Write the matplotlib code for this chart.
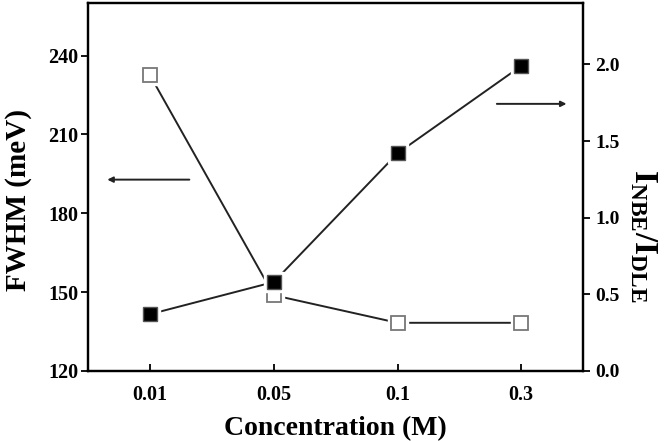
import matplotlib.pyplot as plt

concentracao = ['0.01', '0.05', '0.1', '0.3']
fwhm = [232.5, 148.8, 138.3, 138.3]
razao = [0.37, 0.58, 1.42, 1.99]

plt.rcParams['font.family'] = 'Liberation Serif'
plt.rcParams['font.weight'] = 'bold'
plt.rcParams['mathtext.fontset'] = 'custom'
plt.rcParams['mathtext.bf'] = 'Liberation Serif:bold'
plt.rcParams['mathtext.rm'] = 'Liberation Serif:bold'

fig = plt.figure(figsize=(6.68, 4.41), dpi=100)
ax = fig.add_axes([0.132, 0.159, 0.741, 0.834])
ax2 = ax.twinx()

x = list(range(len(concentracao)))

# FWHM - quadrados vazios (eixo esquerdo)
ax.plot(x, fwhm, color='#222222', lw=1.4, zorder=1)
ax.plot(x, fwhm, ls='none', marker='s', ms=15, mfc='white', mec='white', zorder=2)
ax.plot(x, fwhm, ls='none', marker='s', ms=10.5, mfc='white', mec='#777777', mew=1.3, zorder=3)

# razao NBE/DLE - quadrados cheios (eixo direito)
ax2.plot(x, razao, color='#222222', lw=1.4, zorder=1)
ax2.plot(x, razao, ls='none', marker='s', ms=15, mfc='white', mec='white', zorder=2)
ax2.plot(x, razao, ls='none', marker='s', ms=10.5, mfc='black', mec='#555555', mew=1.0, zorder=3)

ax.set_xlim(-0.5, 3.5)
ax.set_ylim(120, 260)
ax2.set_ylim(0, 2.4)
ax.set_xticks(x)
ax.set_xticklabels(concentracao)
ax.set_yticks([120, 150, 180, 210, 240])
ax2.set_yticks([0.0, 0.5, 1.0, 1.5, 2.0])
ax2.set_yticklabels(['0.0', '0.5', '1.0', '1.5', '2.0'])

ax.tick_params(axis='x', direction='in', length=5, width=1.3, labelsize=14.5, pad=10)
ax.tick_params(axis='y', direction='out', length=5, width=1.3, labelsize=14.5, pad=2)
ax2.tick_params(axis='y', direction='out', length=5, width=1.3, labelsize=14)
for a in (ax, ax2):
    for s in a.spines.values():
        s.set_linewidth(1.6)

ax.set_xlabel('Concentration (M)', fontsize=20, fontweight='bold', labelpad=8)
ax.set_ylabel('FWHM (meV)', fontsize=21, fontweight='bold')
ax.yaxis.set_label_coords(-0.113, 0.465)
fig.text(0.963, 0.465, r'$\mathbf{I_{NBE}/I_{DLE}}$', fontsize=24, rotation=270,
         ha='center', va='center')

# setas indicando os eixos
ax.annotate('', xy=(0.033, 0.52), xytext=(0.21, 0.52), xycoords='axes fraction',
            arrowprops=dict(arrowstyle='-|>', color='#222222', lw=1.4, mutation_scale=8))
ax.annotate('', xy=(0.972, 0.726), xytext=(0.82, 0.726), xycoords='axes fraction',
            arrowprops=dict(arrowstyle='-|>', color='#222222', lw=1.4, mutation_scale=8))

plt.savefig('out.png', dpi=100)
